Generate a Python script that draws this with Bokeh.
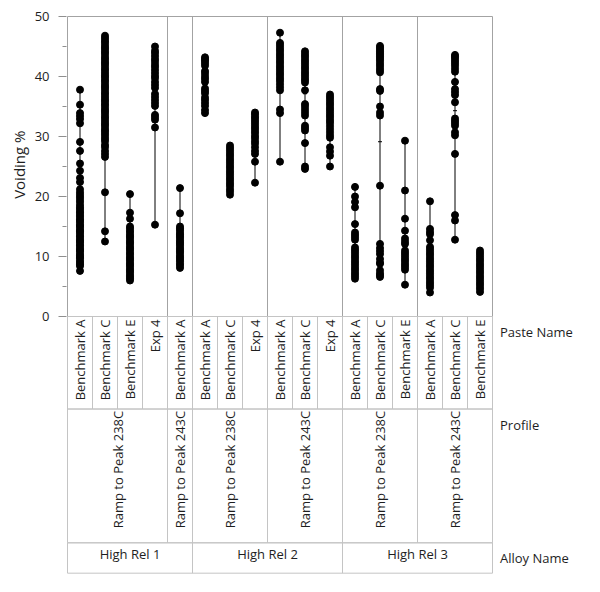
import numpy as np
from bokeh.plotting import figure
from bokeh.models import Range1d, FixedTicker, Title
from bokeh.core.properties import value
from bokeh.embed import file_html
from bokeh.resources import INLINE

# ---------------- data ----------------
alloy_names = ["High Rel 1"] * 5 + ["High Rel 2"] * 6 + ["High Rel 3"] * 6
profile_names = (["Ramp to Peak 238C"] * 4 + ["Ramp to Peak 243C"] * 1 +
                 ["Ramp to Peak 238C"] * 3 + ["Ramp to Peak 243C"] * 3 +
                 ["Ramp to Peak 238C"] * 3 + ["Ramp to Peak 243C"] * 3)
paste_names = ["Benchmark A", "Benchmark C", "Benchmark E", "Exp 4",
               "Benchmark A",
               "Benchmark A", "Benchmark C", "Exp 4",
               "Benchmark A", "Benchmark C", "Exp 4",
               "Benchmark A", "Benchmark C", "Benchmark E",
               "Benchmark A", "Benchmark C", "Benchmark E"]

hr1_238_a = [37.8, 35.3, 33.9, 33.4, 32.9, 32.2, 29.1, 27.6, 25.5, 24.3, 23.1, 22.4,
             21.2, 20.7, 20.3, 19.9, 19.5, 19.1, 18.6, 18.2, 17.9, 17.5, 17.3, 16.9,
             16.6, 16.2, 16.0, 15.7, 15.3, 15.1, 14.8, 14.4, 14.2, 13.9, 13.5, 13.3,
             12.9, 12.6, 12.4, 12.0, 11.8, 11.4, 11.1, 10.9, 10.5, 10.2, 9.9, 9.7,
             9.3, 9.0, 8.7, 8.4, 7.6]
hr1_238_c = [46.8, 46.4, 46.0, 45.7, 45.3, 44.9, 44.6, 44.2, 43.9, 43.5, 43.1, 42.8,
             42.4, 42.1, 41.7, 41.3, 41.0, 40.6, 40.2, 39.9, 39.5, 39.2, 38.8, 38.4,
             38.1, 37.7, 37.3, 37.0, 36.6, 36.2, 35.9, 35.5, 35.2, 34.8, 34.4, 34.1,
             33.7, 33.3, 33.0, 32.6, 32.2, 31.9, 31.5, 31.1, 30.8, 30.4, 30.0, 29.6,
             29.2, 28.6, 28.2, 27.6, 27.1, 26.6, 20.7, 14.2, 12.5]
hr1_238_e = [20.4, 17.3, 16.3, 15.0, 14.7, 14.3, 14.0, 13.6, 13.3, 13.0, 12.6, 12.3,
             12.0, 11.6, 11.3, 11.0, 10.6, 10.3, 9.9, 9.6, 9.3, 8.9, 8.6, 8.3, 7.9,
             7.6, 7.3, 6.9, 6.6, 6.3, 6.0]
hr1_238_exp4 = [45.0, 44.3, 43.9, 43.4, 42.9, 42.5, 42.0, 41.6, 41.1, 40.6, 40.1, 39.7,
                39.1, 38.6, 38.1, 37.1, 36.6, 36.1, 35.6, 35.1, 33.6, 33.2, 32.8, 31.5,
                15.3]
hr1_243_a = [21.4, 17.2, 15.0, 14.7, 14.4, 14.0, 13.7, 13.4, 13.1, 12.7, 12.4, 12.1,
             11.8, 11.4, 11.1, 10.8, 10.5, 10.1, 9.8, 9.5, 9.2, 8.8, 8.5, 8.1]
hr2_238_a = [43.2, 42.9, 42.6, 42.2, 41.8, 40.9, 40.5, 40.0, 39.6, 39.1, 38.0, 37.6,
             37.2, 36.5, 36.1, 35.6, 35.1, 34.4, 33.9]
hr2_238_c = [28.5, 28.1, 27.7, 27.3, 26.9, 26.5, 26.1, 25.7, 25.3, 24.9, 24.5, 24.1,
             23.7, 23.3, 22.9, 22.5, 22.1, 21.7, 21.2, 20.8, 20.3]
hr2_238_exp4 = [34.0, 33.7, 33.3, 33.0, 32.6, 32.2, 31.8, 31.4, 31.0, 30.6, 30.1, 29.7,
                29.2, 28.8, 28.2, 27.6, 27.1, 25.8, 22.3]
hr2_243_a = [47.3, 45.6, 45.2, 44.8, 44.4, 44.0, 43.6, 43.2, 42.8, 42.4, 42.0, 41.6,
             41.2, 40.8, 40.4, 40.0, 39.6, 39.2, 38.7, 38.2, 37.7, 34.5, 33.9, 25.8]
hr2_243_c = [44.2, 43.8, 43.4, 43.0, 42.6, 42.2, 41.8, 41.4, 41.0, 40.6, 40.2, 39.8,
             39.4, 39.0, 37.7, 35.4, 35.0, 34.5, 34.0, 33.5, 31.8, 31.4, 31.0, 28.9,
             25.0, 24.6]
hr2_243_exp4 = [37.0, 36.6, 36.2, 35.8, 35.4, 35.0, 34.6, 34.2, 33.8, 33.4, 33.0, 32.6,
                32.2, 31.7, 31.2, 30.7, 30.2, 29.8, 28.2, 27.5, 26.8, 25.0]
hr3_238_a = [21.6, 20.0, 19.1, 18.2, 15.4, 14.0, 13.6, 13.2, 12.8, 11.5, 11.1, 10.7,
             10.3, 9.9, 9.5, 9.1, 8.7, 8.3, 7.9, 7.5, 7.1, 6.7, 6.3]
hr3_238_c = [45.1, 44.8, 44.5, 44.2, 43.9, 43.6, 43.3, 43.0, 42.7, 42.3, 41.9, 41.5,
             41.1, 40.7, 37.9, 37.6, 35.0, 34.0, 33.5, 21.8, 12.1, 11.4, 10.9, 10.4,
             9.6, 9.0, 8.8, 7.7, 7.2, 6.9, 6.6]
hr3_238_e = [29.3, 21.0, 16.3, 14.3, 13.0, 12.5, 12.1, 11.0, 10.6, 10.2, 9.8, 9.4,
             9.0, 8.6, 8.2, 7.8, 5.3]
hr3_243_a = [19.2, 14.6, 14.1, 13.7, 12.7, 11.6, 11.2, 10.8, 10.4, 10.0, 9.6, 9.2,
             8.8, 8.4, 8.0, 7.6, 7.2, 6.8, 6.4, 6.0, 5.6, 5.2, 4.8, 4.0]
hr3_243_c = [43.6, 43.3, 43.0, 42.6, 42.2, 41.8, 41.3, 40.8, 39.1, 37.9, 37.4, 36.9,
             35.7, 33.0, 32.6, 32.2, 31.8, 30.7, 30.2, 27.1, 16.9, 16.0, 12.8]
hr3_243_e = [11.0, 10.6, 10.2, 9.8, 9.4, 9.0, 8.6, 8.2, 7.8, 7.4, 7.0, 6.6, 6.2, 5.8,
             5.4, 5.0, 4.6, 4.1]

column_values = [hr1_238_a, hr1_238_c, hr1_238_e, hr1_238_exp4, hr1_243_a,
                 hr2_238_a, hr2_238_c, hr2_238_exp4,
                 hr2_243_a, hr2_243_c, hr2_243_exp4,
                 hr3_238_a, hr3_238_c, hr3_238_e,
                 hr3_243_a, hr3_243_c, hr3_243_e]

y_ticks = [0, 10, 20, 30, 40, 50]
y_minor_ticks = [5, 15, 25, 35, 45]
y_label = "Voiding %"
row_titles = ["Paste Name", "Profile", "Alloy Name"]

# ---------------- layout constants ----------------
FONT = "Open Sans"
TXT = "#1e1e1e"
FRAME_COL = "#a3a3a3"
TABLE_COL = "#c4c4c4"
PASTE_BOTTOM = -15.42
PROFILE_BOTTOM = -37.72
ALLOY_BOTTOM = -42.78

n = len(paste_names)

p = figure(width=592, height=584, output_backend="svg", toolbar_location=None,
           x_range=Range1d(-0.04, 21.0), y_range=Range1d(-44.5, 50.1667),
           x_axis_location=None, min_border_left=66, min_border_right=0,
           min_border_top=15, min_border_bottom=1)
p.outline_line_color = None
p.grid.visible = False
p.background_fill_color = "white"
p.border_fill_color = "white"

yax = p.yaxis[0]
yax.bounds = (0, 50)
yax.ticker = FixedTicker(ticks=y_ticks, minor_ticks=y_minor_ticks)
yax.axis_line_color = None
yax.major_tick_line_color = "#8f8f8f"
yax.minor_tick_line_color = "#8f8f8f"
yax.major_tick_out = 8
yax.major_tick_in = 0
yax.minor_tick_out = 4
yax.minor_tick_in = 0
yax.major_label_standoff = 9
yax.major_label_text_font = FONT
yax.major_label_text_font_size = "13px"
yax.major_label_text_color = TXT

# y axis title, placed along the 0-50 part of the left side
p.add_layout(Title(text=y_label, align="right", offset=115, standoff=6,
                   text_font=FONT, text_font_size="15px", text_font_style="normal",
                   text_color=TXT), "left")

# plot frame box and group dividers
p.quad(left=[0], right=[n], bottom=[0], top=[50], fill_color=None,
       line_color=FRAME_COL, line_width=1)


def runs(keys):
    out = []
    start = 0
    for i in range(1, len(keys) + 1):
        if i == len(keys) or keys[i] != keys[start]:
            out.append((start, i, keys[start]))
            start = i
    return out


prof_runs = runs(list(zip(alloy_names, profile_names)))
alloy_runs = runs(alloy_names)

div_x = [r[1] for r in prof_runs[:-1]]
p.segment(x0=div_x, y0=[0] * len(div_x), x1=div_x, y1=[50] * len(div_x),
          line_color=FRAME_COL, line_width=1)

# range lines, points, means
xs, ys = [], []
for i, vals in enumerate(column_values):
    xs += [i + 0.5] * len(vals)
    ys += list(vals)
centers = [i + 0.5 for i in range(n)]
mins = [min(v) for v in column_values]
maxs = [max(v) for v in column_values]
means = [float(np.mean(v)) for v in column_values]

p.segment(x0=centers, y0=mins, x1=centers, y1=maxs, line_color="black", line_width=1)
p.scatter(x=xs, y=ys, size=7, fill_color="black", line_color="black")
p.scatter(x=centers, y=means, marker="dash", size=4, line_color="black", line_width=1)

# table: paste row
p.quad(left=list(range(n)), right=[i + 1 for i in range(n)],
       top=[0] * n, bottom=[PASTE_BOTTOM] * n,
       fill_color=None, line_color=TABLE_COL)
p.text(x=centers, y=[-0.5] * n, text=paste_names, angle=np.pi / 2,
       text_align="right", text_baseline="middle", text_font=value(FONT),
       text_font_size="13px", text_color=TXT)

# profile row
p.quad(left=[r[0] for r in prof_runs], right=[r[1] for r in prof_runs],
       top=[PASTE_BOTTOM] * len(prof_runs), bottom=[PROFILE_BOTTOM] * len(prof_runs),
       fill_color=None, line_color=TABLE_COL)
p.text(x=[(r[0] + r[1]) / 2 for r in prof_runs], y=[PASTE_BOTTOM - 0.3] * len(prof_runs),
       text=[r[2][1] for r in prof_runs], angle=np.pi / 2,
       text_align="right", text_baseline="middle", text_font=value(FONT),
       text_font_size="13px", text_color=TXT)

# alloy row
p.quad(left=[r[0] for r in alloy_runs], right=[r[1] for r in alloy_runs],
       top=[PROFILE_BOTTOM] * len(alloy_runs), bottom=[ALLOY_BOTTOM] * len(alloy_runs),
       fill_color=None, line_color=TABLE_COL)
p.text(x=[(r[0] + r[1]) / 2 for r in alloy_runs], y=[-39.6] * len(alloy_runs),
       text=[r[2] for r in alloy_runs], text_align="center", text_baseline="middle",
       text_font=value(FONT), text_font_size="13px", text_color=TXT)

# row titles on the right
p.text(x=[n + 0.3] * 3, y=[-2.6, -18.0, -40.2], text=row_titles,
       text_align="left", text_baseline="middle", text_font=value(FONT),
       text_font_size="13px", text_color=TXT)

open("out.html", "w").write(file_html(p, INLINE))
